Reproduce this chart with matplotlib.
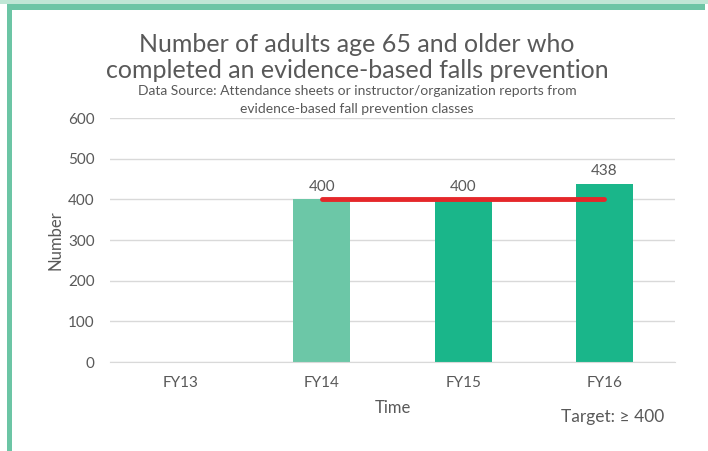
import matplotlib
matplotlib.use("Agg")
import matplotlib.pyplot as plt
from matplotlib.patches import Rectangle

categories = ["FY13", "FY14", "FY15", "FY16"]
values = [None, 400, 400, 438]
bar_colors = ["#1AB68A", "#6CC7A7", "#1AB68A", "#1AB68A"]
target = 400
target_span = ["FY14", "FY16"]
yticks = [0, 100, 200, 300, 400, 500, 600]

plt.rcParams['font.family'] = ['Lato', 'DejaVu Sans']
gray = "#595959"

W, H = 708, 451
fig = plt.figure(figsize=(W / 100, H / 100), dpi=100)
fig.patch.set_facecolor("white")

# decorative border
fig.patches.append(Rectangle((0, 1 - 4 / H), 1, 4 / H, transform=fig.transFigure,
                             facecolor="#bfe6d5", edgecolor="none", zorder=0))
fig.patches.append(Rectangle((7 / W, 1 - 10 / H), 1 - 10 / W, 6 / H, transform=fig.transFigure,
                             facecolor="#6cc5a5", edgecolor="none", zorder=0))
fig.patches.append(Rectangle((7 / W, 0), 5 / W, 1 - 4 / H, transform=fig.transFigure,
                             facecolor="#6cc5a5", edgecolor="none", zorder=0))

ax = fig.add_axes([110 / W, 1 - 362 / H, 565 / W, 244 / H])
x = list(range(len(categories)))
for xi, v, c in zip(x, values, bar_colors):
    if v is not None:
        ax.bar(xi, v, width=0.405, color=c, zorder=2)
        ax.text(xi, v + 14, f"{v}", ha="center", va="bottom", fontsize=11, color=gray)

i0, i1 = categories.index(target_span[0]), categories.index(target_span[1])
ax.plot([i0, i1], [target, target], color="#e5272a", lw=3.5, solid_capstyle="round", zorder=3)

ax.set_xlim(-0.5, len(categories) - 0.5)
ax.set_ylim(0, 600)
ax.set_yticks(yticks)
ax.set_xticks(x)
ax.set_xticklabels(categories)
ax.grid(axis="y", color="#d9d9d9", lw=1, zorder=0)
ax.set_axisbelow(True)
for s in ["top", "right", "left"]:
    ax.spines[s].set_visible(False)
ax.spines["bottom"].set_color("#d9d9d9")
ax.tick_params(axis="both", length=0, labelsize=11, labelcolor=gray)
ax.tick_params(axis="y", pad=11)
ax.tick_params(axis="x", pad=10)
ax.set_xlabel("Time", fontsize=12, color=gray, labelpad=7)
ax.set_ylabel("Number", fontsize=12, color=gray, labelpad=3)

fig.text(357 / W, 1 - 44 / H, "Number of adults age 65 and older who", ha="center", va="center",
         fontsize=18, color=gray)
fig.text(357 / W, 1 - 71 / H, "completed an evidence-based falls prevention", ha="center", va="center",
         fontsize=18, color=gray)
fig.text(357 / W, 1 - 91 / H, "Data Source: Attendance sheets or instructor/organization reports from",
         ha="center", va="center", fontsize=10, color=gray)
fig.text(357 / W, 1 - 109 / H, "evidence-based fall prevention classes", ha="center", va="center",
         fontsize=10, color=gray)
fig.text(664 / W, 1 - 417 / H, "Target: ≥ 400", ha="right", va="center", fontsize=12.5, color=gray)

fig.savefig("out.png", dpi=100)
